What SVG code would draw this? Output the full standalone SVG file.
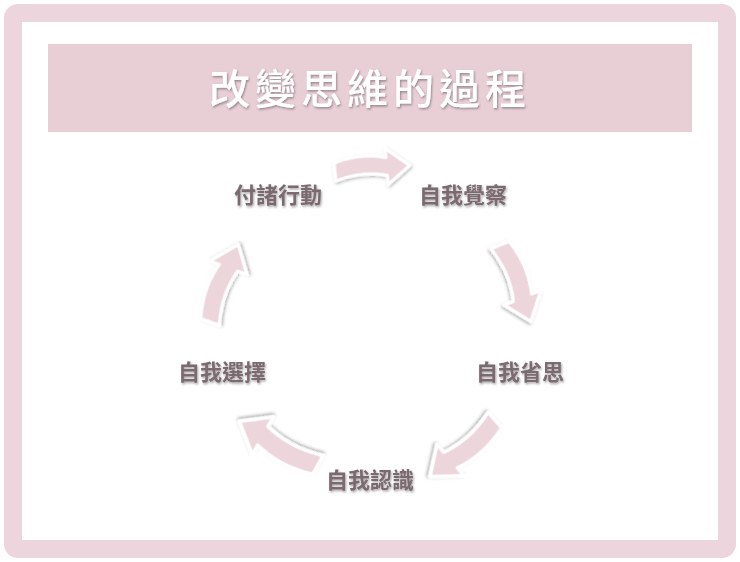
<svg xmlns="http://www.w3.org/2000/svg" width="740" height="562" viewBox="0 0 740 562">
<style>
.lbl{font-family:"Noto Sans CJK TC","Noto Sans CJK SC",sans-serif;font-weight:bold;font-size:22px;fill:#7b6a71;text-anchor:middle;filter:url(#ts)}
.arr{fill:#edd5dc;stroke:#fff;stroke-width:3;stroke-linejoin:round;filter:url(#ds)}
</style>
<defs>
<filter id="ds" x="-30%" y="-30%" width="160%" height="160%"><feDropShadow dx="1" dy="1.5" stdDeviation="1.5" flood-color="#000" flood-opacity="0.3"/></filter>
<filter id="ts" x="-10%" y="-20%" width="120%" height="150%"><feDropShadow dx="1" dy="1.5" stdDeviation="1" flood-color="#000" flood-opacity="0.35"/></filter>
<path id="a" d="M0,-9 Q28,-17 52,-10 L52,-19 L75,0 L52,17 L52,8 Q28,1 0,9 Z"/>
</defs>
<rect x="4" y="4" width="732" height="554" rx="14" fill="#ecd5dc"/>
<rect x="22" y="22" width="696" height="518" fill="#fff"/>
<g id="title">
<rect x="48" y="44" width="644" height="88" fill="#e8cfd6"/>
<text x="370" y="104" font-family="Noto Sans CJK TC,sans-serif" font-weight="500" font-size="41" fill="#fff" text-anchor="middle" letter-spacing="5" style="filter:url(#ts)">改變思維的過程</text>
</g>
<g id="connectors">
<use href="#a" class="arr" transform="translate(335,172) rotate(-5)"/>
<use href="#a" class="arr" transform="translate(500,245) rotate(68) scale(1.1)"/>
<use href="#a" class="arr" transform="translate(495,420) rotate(139) scale(1.15)"/>
<use href="#a" class="arr" transform="translate(318,465) rotate(209) scale(1.2)"/>
<use href="#a" class="arr" transform="translate(210,322) rotate(-70) scale(1.1)"/>
</g>
<g id="n1"><text class="lbl" x="278" y="203">付諸行動</text></g>
<g id="n2"><text class="lbl" x="463" y="203">自我覺察</text></g>
<g id="n3"><text class="lbl" x="520" y="380">自我省思</text></g>
<g id="n4"><text class="lbl" x="370" y="488">自我認識</text></g>
<g id="n5"><text class="lbl" x="222" y="380">自我選擇</text></g>
</svg>
